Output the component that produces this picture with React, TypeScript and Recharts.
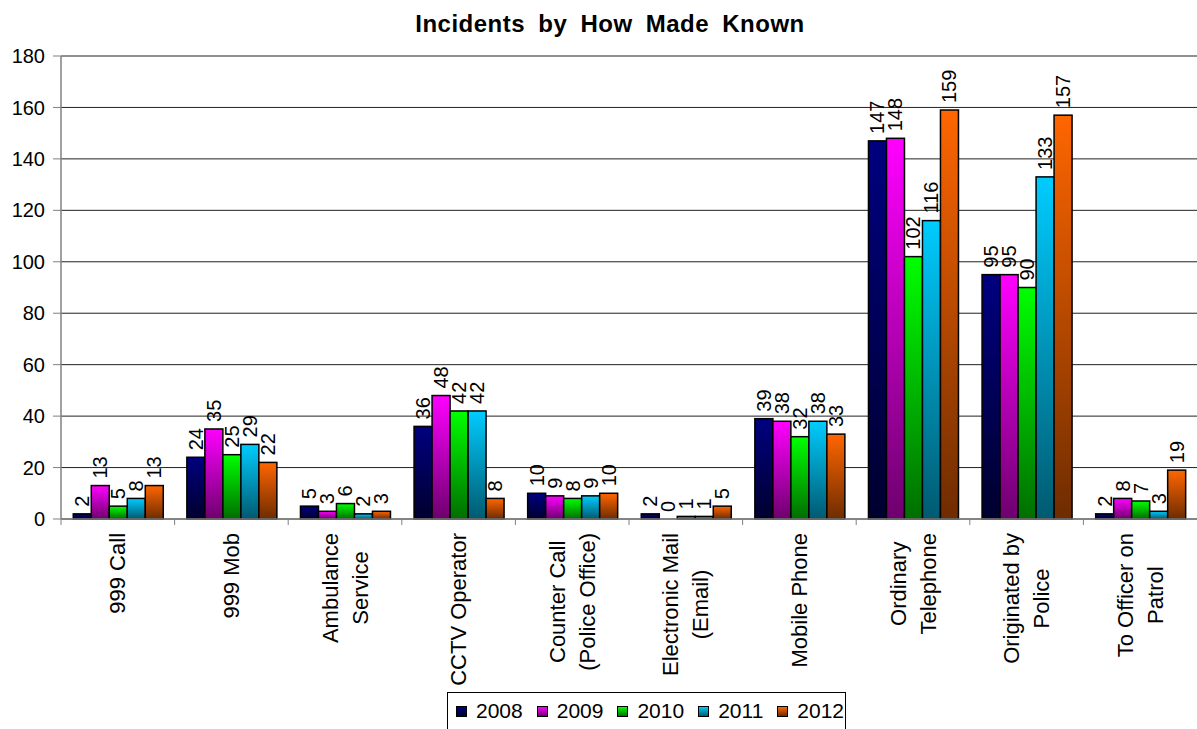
import React from "react";
import { BarChart, Bar, XAxis, YAxis, CartesianGrid } from "recharts";

const FONT = "'Liberation Sans', Arial, sans-serif";

const categories = [
  "999 Call",
  "999 Mob",
  "Ambulance\nService",
  "CCTV Operator",
  "Counter Call\n(Police Office)",
  "Electronic Mail\n(Email)",
  "Mobile Phone",
  "Ordinary\nTelephone",
  "Originated by\nPolice",
  "To Officer on\nPatrol",
];

const s2008 = [2, 24, 5, 36, 10, 2, 39, 147, 95, 2];
const s2009 = [13, 35, 3, 48, 9, 0, 38, 148, 95, 8];
const s2010 = [5, 25, 6, 42, 8, 1, 32, 102, 90, 7];
const s2011 = [8, 29, 2, 42, 9, 1, 38, 116, 133, 3];
const s2012 = [13, 22, 3, 8, 10, 5, 33, 159, 157, 19];

const yTicks = [0, 20, 40, 60, 80, 100, 120, 140, 160, 180];

const series = [
  { key: "2008", values: s2008, top: "#000080", bottom: "#00002e" },
  { key: "2009", values: s2009, top: "#ff00ff", bottom: "#6e006e" },
  { key: "2010", values: s2010, top: "#00ff00", bottom: "#006e00" },
  { key: "2011", values: s2011, top: "#00ccff", bottom: "#005a70" },
  { key: "2012", values: s2012, top: "#ff6600", bottom: "#6e2c00" },
];

const data = categories.map((c, i) => {
  const row: Record<string, any> = { name: c };
  series.forEach((s) => (row[s.key] = s.values[i]));
  return row;
});

const W = 1197;
const H = 729;
const LEFT = 61;
const TOP = 56;
const XAXIS_H = 210;
const HALF_BAND = (W - LEFT) / categories.length / 2;

let ctx: CanvasRenderingContext2D | null = null;
function measure(text: string, font: string) {
  if (!ctx) ctx = document.createElement("canvas").getContext("2d");
  if (!ctx) return text.length * 11;
  ctx.font = font;
  return ctx.measureText(text).width;
}

function CatTick(props: any) {
  const { x, y, payload } = props;
  const lines = String(payload.value).split("\n");
  const fs = 22;
  const lh = 30;
  const maxLen = Math.max(...lines.map((l) => measure(l, `${fs}px 'Liberation Sans'`)));
  const top = y + 14;
  const n = lines.length;
  return (
    <g>
      <line x1={x - HALF_BAND} x2={x - HALF_BAND} y1={y} y2={y + 6} stroke="#808080" strokeWidth={1} />
      <g transform={`translate(${x},${top}) rotate(-90)`}>
        {lines.map((l, i) => (
          <text
            key={i}
            x={-maxLen / 2}
            y={(i - (n - 1) / 2) * lh}
            textAnchor="middle"
            dominantBaseline="central"
            fontSize={fs}
            fontFamily={FONT}
            fill="#000"
          >
            {l}
          </text>
        ))}
      </g>
    </g>
  );
}

function makeShape(key: string) {
  return (p: any) => {
    const x = Number(p.x);
    const y = Number(p.y);
    const w = Number(p.width);
    const h = Number(p.height);
    const value = p.payload ? p.payload[key] : p.value;
    const cx = x + w / 2;
    return (
      <g>
        {h > 0 && (
          <rect x={x} y={y} width={w} height={h} fill={`url(#g${key})`} stroke="#000" strokeWidth={1.5} />
        )}
        <text
          transform={`translate(${cx},${y - 7}) rotate(-90)`}
          textAnchor="start"
          dominantBaseline="central"
          fontSize={20}
          fontFamily={FONT}
          fill="#000"
        >
          {value}
        </text>
      </g>
    );
  };
}

export default function App() {
  return (
    <div style={{ position: "absolute", left: 0, top: 0, width: W, height: H, background: "#fff", overflow: "hidden", fontFamily: FONT }}>
      <div
        style={{
          position: "absolute",
          left: 610,
          top: 12,
          transform: "translateX(-50%)",
          fontSize: 24,
          lineHeight: "24px",
          fontWeight: "bold",
          whiteSpace: "nowrap",
          color: "#000",
          wordSpacing: 6,
          letterSpacing: 0.5,
        }}
      >
        Incidents by How Made Known
      </div>
      <BarChart
        width={W}
        height={H}
        data={data}
        margin={{ top: TOP, right: 0, left: 0, bottom: 0 }}
        barCategoryGap="10.8%"
        barGap={0}
      >
        <defs>
          {series.map((s) => (
            <linearGradient key={s.key} id={`g${s.key}`} x1="0" y1="0" x2="0" y2="1">
              <stop offset="0%" stopColor={s.top} />
              <stop offset="100%" stopColor={s.bottom} />
            </linearGradient>
          ))}
        </defs>
        <CartesianGrid vertical={false} stroke="#222" strokeWidth={1} />
        <XAxis
          dataKey="name"
          height={XAXIS_H}
          interval={0}
          tickLine={false}
          tickSize={0}
          tickMargin={0}
          axisLine={{ stroke: "#808080", strokeWidth: 1.5 }}
          tick={<CatTick />}
        />
        <YAxis
          width={LEFT}
          domain={[0, 180]}
          ticks={yTicks}
          interval={0}
          tickSize={8}
          tickMargin={8}
          axisLine={{ stroke: "#808080", strokeWidth: 1.5 }}
          tickLine={{ stroke: "#808080" }}
          tick={{ fontSize: 20, fill: "#000", fontFamily: FONT }}
        />
        {series.map((s) => (
          <Bar
            key={s.key}
            dataKey={s.key}
            fill={`url(#g${s.key})`}
            stroke="#000"
            strokeWidth={1.5}
            isAnimationActive={false}
            shape={makeShape(s.key)}
          />
        ))}
      </BarChart>
      <div
        style={{
          position: "absolute",
          left: 447,
          top: 692,
          width: 399,
          height: 50,
          border: "1px solid #000",
          boxSizing: "border-box",
          background: "#fff",
          display: "flex",
          alignItems: "flex-start",
          paddingLeft: 8,
          paddingTop: 7,
        }}
      >
        {series.map((s) => (
          <div key={s.key} style={{ display: "flex", alignItems: "center", marginRight: 14 }}>
            <div
              style={{
                width: 11,
                height: 11,
                border: "1px solid #000",
                background: `linear-gradient(${s.top}, ${s.bottom})`,
                marginRight: 9,
                boxSizing: "border-box",
              }}
            />
            <span style={{ fontSize: 21, lineHeight: "22px", color: "#000" }}>{s.key}</span>
          </div>
        ))}
      </div>
    </div>
  );
}
